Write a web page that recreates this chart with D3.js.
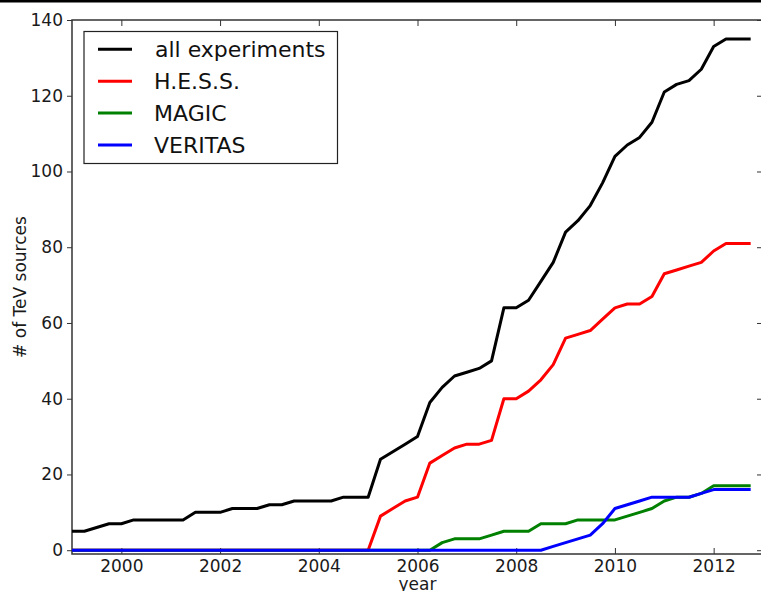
<!DOCTYPE html>
<html>
<head>
<meta charset="utf-8">
<script src="https://cdn.jsdelivr.net/npm/d3@7"></script>
<style>
  body { margin: 0; background: #fff; }
  svg { display: block; font-family: "DejaVu Sans", sans-serif; }
</style>
</head>
<body>
<svg id="chart" width="761" height="591"></svg>
<script>
// quarterly sample times
var years = [
  1999.00, 1999.25, 1999.50, 1999.75, 2000.00, 2000.25, 2000.50, 2000.75,
  2001.00, 2001.25, 2001.50, 2001.75, 2002.00, 2002.25, 2002.50, 2002.75,
  2003.00, 2003.25, 2003.50, 2003.75, 2004.00, 2004.25, 2004.50, 2004.75,
  2005.00, 2005.25, 2005.50, 2005.75, 2006.00, 2006.25, 2006.50, 2006.75,
  2007.00, 2007.25, 2007.50, 2007.75, 2008.00, 2008.25, 2008.50, 2008.75,
  2009.00, 2009.25, 2009.50, 2009.75, 2010.00, 2010.25, 2010.50, 2010.75,
  2011.00, 2011.25, 2011.50, 2011.75, 2012.00, 2012.25, 2012.50, 2012.75
]
var allExperiments = [
  5, 5, 6, 7, 7, 8, 8, 8, 8, 8, 10, 10, 10, 11, 11, 11,
  12, 12, 13, 13, 13, 13, 14, 14, 14, 24, 26, 28, 30, 39, 43, 46,
  47, 48, 50, 64, 64, 66, 71, 76, 84, 87, 91, 97, 104, 107, 109, 113,
  121, 123, 124, 127, 133, 135, 135, 135
]
var hess = [
  0, 0, 0, 0, 0, 0, 0, 0, 0, 0, 0, 0, 0, 0, 0, 0,
  0, 0, 0, 0, 0, 0, 0, 0, 0, 9, 11, 13, 14, 23, 25, 27,
  28, 28, 29, 40, 40, 42, 45, 49, 56, 57, 58, 61, 64, 65, 65, 67,
  73, 74, 75, 76, 79, 81, 81, 81
]
var magic = [
  0, 0, 0, 0, 0, 0, 0, 0, 0, 0, 0, 0, 0, 0, 0, 0,
  0, 0, 0, 0, 0, 0, 0, 0, 0, 0, 0, 0, 0, 0, 2, 3,
  3, 3, 4, 5, 5, 5, 7, 7, 7, 8, 8, 8, 8, 9, 10, 11,
  13, 14, 14, 15, 17, 17, 17, 17
]
var veritas = [
  0, 0, 0, 0, 0, 0, 0, 0, 0, 0, 0, 0, 0, 0, 0, 0,
  0, 0, 0, 0, 0, 0, 0, 0, 0, 0, 0, 0, 0, 0, 0, 0,
  0, 0, 0, 0, 0, 0, 0, 1, 2, 3, 4, 7, 11, 12, 13, 14,
  14, 14, 14, 15, 16, 16, 16, 16
]
var seriesNames = ["all experiments", "H.E.S.S.", "MAGIC", "VERITAS"]
var seriesColors = ["#000000", "#ff0000", "#008000", "#0000ff"]
var xTicks = [2000, 2002, 2004, 2006, 2008, 2010, 2012]
var yTicks = [0, 20, 40, 60, 80, 100, 120, 140]

var svg = d3.select("#chart")
var plotLeft = 72, plotRight = 763, plotTop = 20, plotBottom = 554

var x = d3.scaleLinear().domain([1999, 2013]).range([plotLeft, plotRight])
var y = d3.scaleLinear().domain([-1, 140]).range([plotBottom, plotTop])

// black strip at the very top of the picture
svg.append("rect")
  .attr("x", 0).attr("y", 0)
  .attr("width", 761).attr("height", 2.5)
  .attr("fill", "#000")

var axisColor = "#333"

// bottom axis: ticks point inward
var xAxis = svg.append("g")
  .attr("transform", "translate(0," + plotBottom + ")")
  .call(d3.axisBottom(x).tickValues(xTicks).tickFormat(d3.format("d")).tickSizeInner(-6).tickSizeOuter(0).tickPadding(6))
xAxis.select(".domain").remove()
xAxis.selectAll("line").attr("stroke", axisColor)
xAxis.selectAll("text").attr("font-size", "17px").attr("fill", "#1a1a1a").attr("font-family", "DejaVu Sans")

// top ticks
var xTop = svg.append("g")
  .attr("transform", "translate(0," + plotTop + ")")
  .call(d3.axisTop(x).tickValues(xTicks).tickFormat("").tickSizeInner(-6).tickSizeOuter(0))
xTop.select(".domain").remove()
xTop.selectAll("line").attr("stroke", axisColor)

// left axis
var yAxis = svg.append("g")
  .attr("transform", "translate(" + plotLeft + ",0)")
  .call(d3.axisLeft(y).tickValues(yTicks).tickFormat(d3.format("d")).tickSizeInner(5).tickSizeOuter(0).tickPadding(4))
yAxis.select(".domain").remove()
yAxis.selectAll("line").attr("stroke", axisColor)
yAxis.selectAll("text").attr("font-size", "17px").attr("fill", "#1a1a1a").attr("font-family", "DejaVu Sans")

// right ticks
var yRight = svg.append("g")
  .attr("transform", "translate(" + plotRight + ",0)")
  .call(d3.axisRight(y).tickValues(yTicks).tickFormat("").tickSizeInner(-6).tickSizeOuter(0))
yRight.select(".domain").remove()
yRight.selectAll("line").attr("stroke", axisColor)

// spines
svg.append("rect")
  .attr("x", plotLeft).attr("y", plotTop)
  .attr("width", plotRight - plotLeft).attr("height", plotBottom - plotTop)
  .attr("fill", "none")
  .attr("stroke", axisColor)
  .attr("stroke-width", 1.5)

// lines
var allSeries = [allExperiments, hess, magic, veritas]
var line = d3.line()
  .x(function(d, i) { return x(years[i]) })
  .y(function(d) { return y(d) })

svg.append("g")
  .selectAll("path")
  .data(allSeries)
  .enter().append("path")
  .attr("d", function(d) { return line(d) })
  .attr("fill", "none")
  .attr("stroke", function(d, i) { return seriesColors[i] })
  .attr("stroke-width", 3)
  .attr("stroke-linejoin", "round")

// axis labels
svg.append("text")
  .attr("x", (plotLeft + plotRight) / 2)
  .attr("y", 590)
  .attr("text-anchor", "middle")
  .attr("font-size", "17px")
  .attr("fill", "#1a1a1a")
  .text("year")

svg.append("text")
  .attr("transform", "translate(26," + ((plotTop + plotBottom) / 2) + ") rotate(-90)")
  .attr("text-anchor", "middle")
  .attr("font-size", "17px")
  .attr("fill", "#1a1a1a")
  .text("# of TeV sources")

// legend
var legend = svg.append("g")
legend.append("rect")
  .attr("x", 84).attr("y", 31.5)
  .attr("width", 253.5).attr("height", 132)
  .attr("fill", "#fff")
  .attr("stroke", "#222")
  .attr("stroke-width", 1.2)

var items = legend.selectAll(".legendItem")
  .data(seriesNames)
  .enter().append("g")
  .attr("class", "legendItem")
  .attr("transform", function(d, i) { return "translate(0," + (49.3 + i * 31.9) + ")" })

items.append("line")
  .attr("x1", 98).attr("x2", 132)
  .attr("y1", 0).attr("y2", 0)
  .attr("stroke", function(d, i) { return seriesColors[i] })
  .attr("stroke-width", 3)

items.append("text")
  .attr("x", function(d, i) { return i == 0 ? 155 : 154 })
  .attr("y", 8)
  .attr("font-size", "22px")
  .attr("fill", "#111")
  .text(function(d) { return d })
</script>
</body>
</html>
